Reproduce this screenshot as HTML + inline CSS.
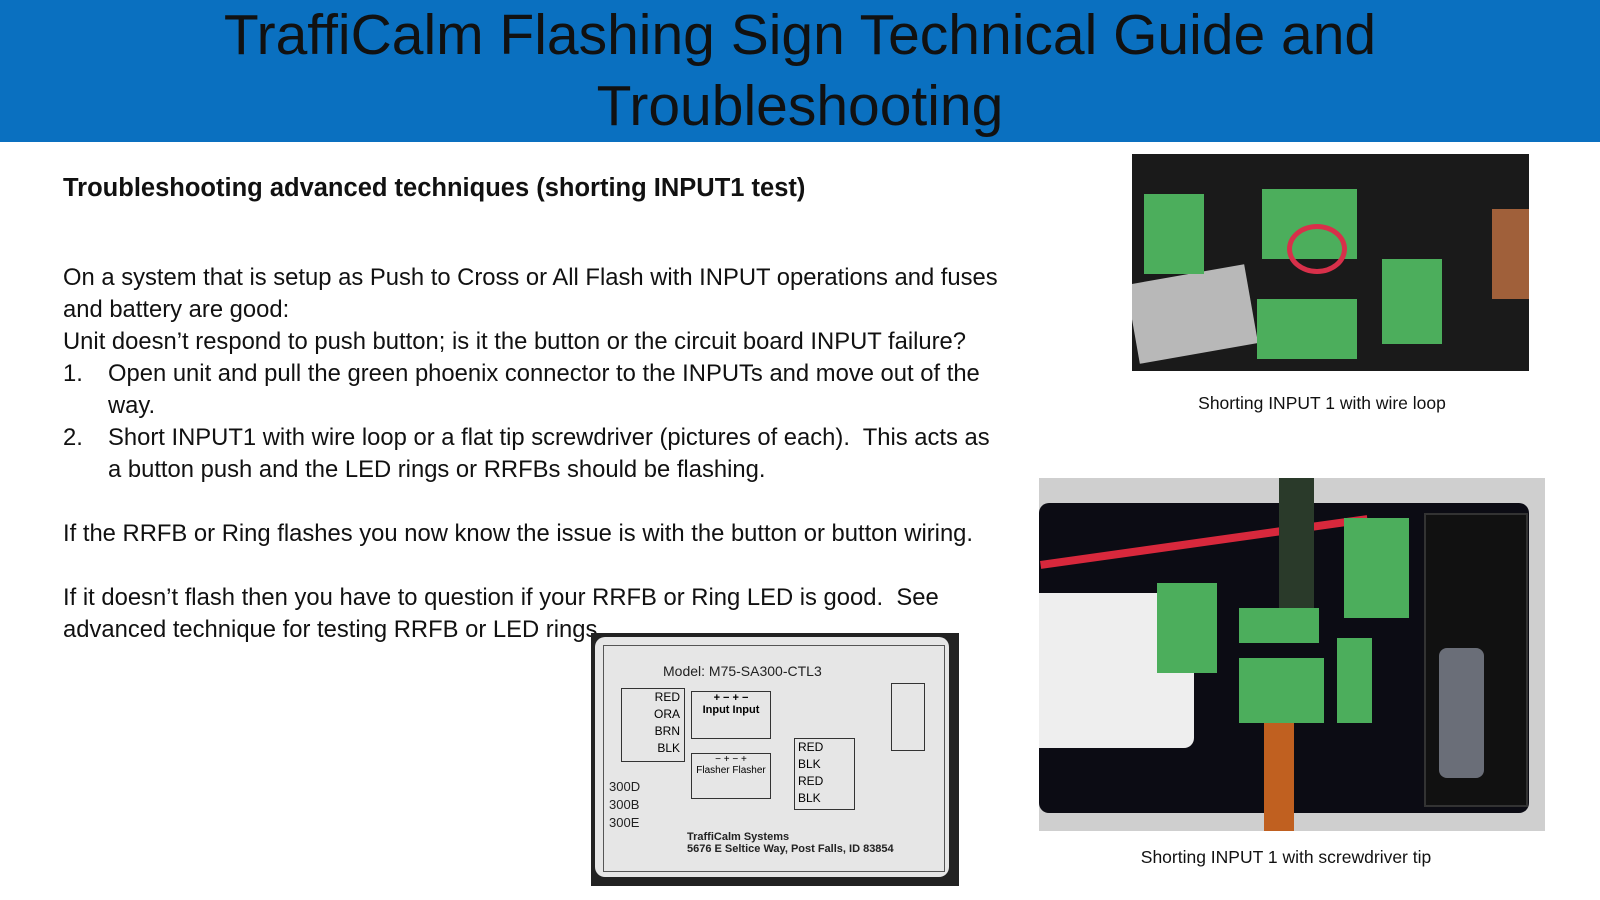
<!DOCTYPE html>
<html><head><meta charset="utf-8"><style>
body{margin:0;width:1600px;height:900px;background:#fff;position:relative;overflow:hidden;font-family:"Liberation Sans","DejaVu Sans",sans-serif}
.hdr{position:absolute;left:0;top:0;width:1600px;height:142px;background:#0a70c0;color:#111;text-align:center;font-size:57px;line-height:71px;}
.t{position:absolute;font-size:23.8px;color:#111;white-space:nowrap}
.ab{position:absolute}
.cap{position:absolute;font-size:17.5px;color:#111;white-space:nowrap;transform:translateX(-50%)}
</style></head><body>
<div class="hdr"><div>TraffiCalm Flashing Sign Technical Guide and</div><div>Troubleshooting</div></div>
<div class="t" style="left:63px;top:174px;font-weight:bold;font-size:25.5px">Troubleshooting advanced techniques (shorting INPUT1 test)</div>
<div class="t" style="left:63px;top:264px">On a system that is setup as Push to Cross or All Flash with INPUT operations and fuses</div>
<div class="t" style="left:63px;top:296px">and battery are good:</div>
<div class="t" style="left:63px;top:328px">Unit doesn’t respond to push button; is it the button or the circuit board INPUT failure?</div>
<div class="t" style="left:63px;top:360px">1.</div><div class="t" style="left:108px;top:360px">Open unit and pull the green phoenix connector to the INPUTs and move out of the</div>
<div class="t" style="left:108px;top:392px">way.</div>
<div class="t" style="left:63px;top:424px">2.</div><div class="t" style="left:108px;top:424px">Short INPUT1 with wire loop or a flat tip screwdriver (pictures of each).&nbsp; This acts as</div>
<div class="t" style="left:108px;top:456px">a button push and the LED rings or RRFBs should be flashing.</div>
<div class="t" style="left:63px;top:520px">If the RRFB or Ring flashes you now know the issue is with the button or button wiring.</div>
<div class="t" style="left:63px;top:584px">If it doesn’t flash then you have to question if your RRFB or Ring LED is good.&nbsp; See</div>
<div class="t" style="left:63px;top:616px">advanced technique for testing RRFB or LED rings.</div>

<!-- top photo -->
<div class="ab" style="left:1132px;top:154px;width:397px;height:217px;background:#1a1a1a;overflow:hidden">
 <div class="ab" style="left:360px;top:55px;width:37px;height:90px;background:#a0603a"></div>
 <div class="ab" style="left:0;top:120px;width:120px;height:80px;background:#b8b8b8;transform:rotate(-10deg)"></div>
 <div class="ab" style="left:12px;top:40px;width:60px;height:80px;background:#4cae5c"></div>
 <div class="ab" style="left:130px;top:35px;width:95px;height:70px;background:#4cae5c"></div>
 <div class="ab" style="left:125px;top:145px;width:100px;height:60px;background:#4cae5c"></div>
 <div class="ab" style="left:250px;top:105px;width:60px;height:85px;background:#4cae5c"></div>
 <div class="ab" style="left:155px;top:70px;width:50px;height:40px;border:5px solid #d8304a;border-radius:50%"></div>
</div>
<div class="cap" style="left:1322px;top:393px">Shorting INPUT 1 with wire loop</div>

<!-- label photo -->
<div class="ab" style="left:591px;top:633px;width:368px;height:253px;background:#222;overflow:hidden">
 <div class="ab" style="left:4px;top:4px;width:354px;height:240px;background:#e6e6e6;border-radius:10px"></div>
 <div class="ab" style="left:12px;top:12px;width:340px;height:225px;border:1px solid #555"></div>
 <div class="ab" style="left:72px;top:30px;font-size:14px;color:#222">Model: M75-SA300-CTL3</div>
 <div class="ab" style="left:30px;top:55px;width:58px;height:72px;border:1px solid #333;font-size:12px;line-height:17px;text-align:right;padding-right:4px">RED<br>ORA<br>BRN<br>BLK</div>
 <div class="ab" style="left:100px;top:58px;width:78px;height:46px;border:1px solid #333;font-size:11px;text-align:center;font-weight:bold">+ − + −<br>Input Input</div>
 <div class="ab" style="left:100px;top:120px;width:78px;height:44px;border:1px solid #333;font-size:10px;text-align:center">− + − +<br>Flasher Flasher</div>
 <div class="ab" style="left:203px;top:105px;width:56px;height:70px;border:1px solid #333;font-size:12px;line-height:17px;padding-left:3px">RED<br>BLK<br>RED<br>BLK</div>
 <div class="ab" style="left:300px;top:50px;width:32px;height:66px;border:1px solid #333"></div>
 <div class="ab" style="left:18px;top:145px;font-size:13px;line-height:18px;color:#222">300D<br>300B<br>300E</div>
 <div class="ab" style="left:96px;top:198px;font-size:11px;font-weight:bold;line-height:12px;color:#222">TraffiCalm Systems<br>5676 E Seltice Way, Post Falls, ID 83854</div>
</div>

<!-- bottom photo -->
<div class="ab" style="left:1039px;top:478px;width:506px;height:353px;background:#cfcfcf;overflow:hidden">
 <div class="ab" style="left:0;top:25px;width:490px;height:310px;background:#0c0c14;border-radius:10px"></div>
 <div class="ab" style="left:385px;top:35px;width:100px;height:290px;background:#111;border:2px solid #333"></div>
 <div class="ab" style="left:400px;top:170px;width:45px;height:130px;background:#6a6e78;border-radius:8px"></div>
 <div class="ab" style="left:0;top:115px;width:155px;height:155px;background:#eee;border-radius:0 10px 10px 0"></div>
 <div class="ab" style="left:0;top:60px;width:330px;height:8px;background:#d8283c;transform:rotate(-8deg)"></div>
 <div class="ab" style="left:240px;top:0;width:35px;height:150px;background:#2a3a2a"></div>
 <div class="ab" style="left:305px;top:40px;width:65px;height:100px;background:#4cae5c"></div>
 <div class="ab" style="left:118px;top:105px;width:60px;height:90px;background:#4cae5c"></div>
 <div class="ab" style="left:200px;top:130px;width:80px;height:35px;background:#4cae5c"></div>
 <div class="ab" style="left:200px;top:180px;width:85px;height:65px;background:#4cae5c"></div>
 <div class="ab" style="left:298px;top:160px;width:35px;height:85px;background:#4cae5c"></div>
 <div class="ab" style="left:225px;top:245px;width:30px;height:110px;background:#c06020"></div>
</div>
<div class="cap" style="left:1286px;top:847px">Shorting INPUT 1 with screwdriver tip</div>
</body></html>
